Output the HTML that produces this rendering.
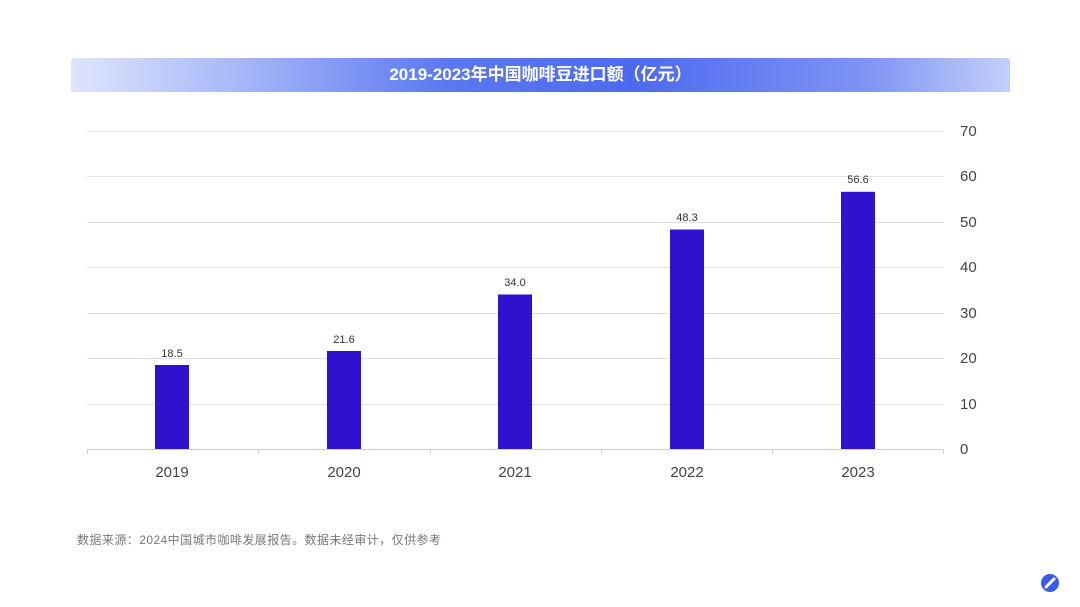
<!DOCTYPE html>
<html><head><meta charset="utf-8"><style>
html,body{margin:0;padding:0;background:#fff;}
body{width:1080px;height:607px;position:relative;overflow:hidden;font-family:"Liberation Sans","Noto Sans CJK SC",sans-serif;}
.title{position:absolute;left:71px;top:58px;width:939px;height:34px;border-radius:3px 3px 0 0;
background:linear-gradient(90deg,#dfe5fd 0%,#9fb2f7 20%,#5b78f0 40%,#4d6aef 60%,#7e95f4 85%,#c3cffb 100%);
color:#fff;font-weight:bold;font-size:17px;line-height:34px;text-align:center;}
</style></head><body>
<div class="title">2019-2023年中国咖啡豆进口额（亿元）</div>
<svg width="1080" height="607" style="position:absolute;left:0;top:0">
<g stroke="#e3e3e3" stroke-width="1">
<line x1="87" x2="944" y1="131.5" y2="131.5"/><line x1="87" x2="944" y1="176.5" y2="176.5"/>
<line x1="87" x2="944" y1="222.5" y2="222.5"/><line x1="87" x2="944" y1="267.5" y2="267.5"/>
<line x1="87" x2="944" y1="313.5" y2="313.5"/><line x1="87" x2="944" y1="358.5" y2="358.5"/>
<line x1="87" x2="944" y1="404.5" y2="404.5"/>
</g>
<line x1="87" x2="944" y1="449.5" y2="449.5" stroke="#d0d0d0"/>
<g stroke="#d0d0d0"><line x1="87.5" x2="87.5" y1="449" y2="454"/><line x1="258.5" x2="258.5" y1="449" y2="454"/><line x1="430.5" x2="430.5" y1="449" y2="454"/><line x1="601.5" x2="601.5" y1="449" y2="454"/><line x1="772.5" x2="772.5" y1="449" y2="454"/><line x1="943.5" x2="943.5" y1="449" y2="454"/></g>
<g font-size="15" fill="#444" font-family="Liberation Sans,sans-serif">
<text x="960" y="136">70</text><text x="960" y="181">60</text><text x="960" y="227">50</text><text x="960" y="272">40</text><text x="960" y="318">30</text><text x="960" y="363">20</text><text x="960" y="409">10</text><text x="960" y="454">0</text>
</g>
<g fill="#3210cf">
<rect x="155" y="365" width="34" height="84"/>
<rect x="327" y="351" width="34" height="98"/>
<rect x="498" y="294.5" width="34" height="154.5"/>
<rect x="670" y="229.5" width="34" height="219.5"/>
<rect x="841" y="191.8" width="34" height="257.2"/>
</g>
<g font-size="11" fill="#333" text-anchor="middle">
<text x="172" y="357">18.5</text><text x="344" y="343">21.6</text><text x="515" y="286">34.0</text><text x="687" y="221">48.3</text><text x="858" y="183">56.6</text>
</g>
<g font-size="15" fill="#444" text-anchor="middle">
<text x="172" y="477">2019</text><text x="344" y="477">2020</text><text x="515" y="477">2021</text><text x="687" y="477">2022</text><text x="858" y="477">2023</text>
</g>
<text x="77" y="544" font-size="12" fill="#777" textLength="364" font-family="Liberation Sans,Noto Sans CJK SC,sans-serif">数据来源：2024中国城市咖啡发展报告。数据未经审计，仅供参考</text>
<circle cx="1050" cy="583" r="9" fill="#3b5ce8"/>
<path d="M1046 587 L1054 579" stroke="#fff" stroke-width="3" stroke-linecap="round"/>
</svg>
</body></html>
